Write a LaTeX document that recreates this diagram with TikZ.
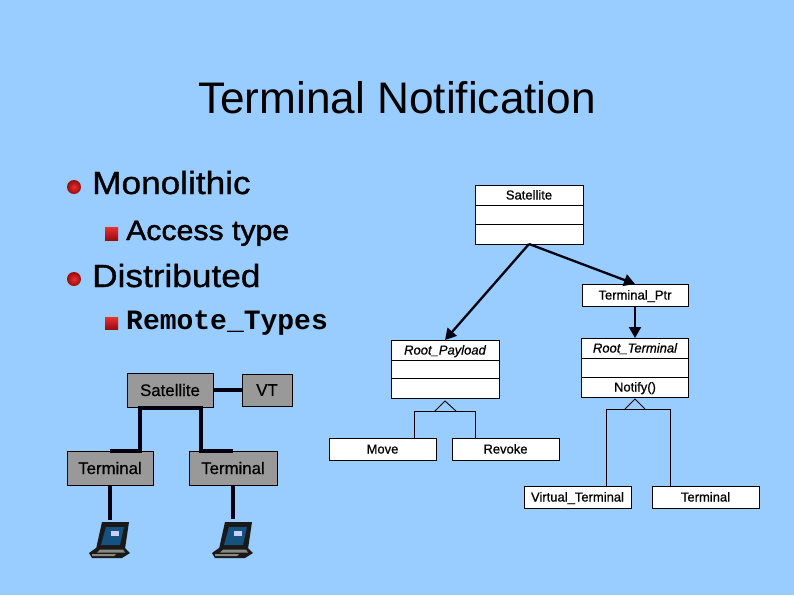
\documentclass[tikz,border=0pt]{standalone}
\usepackage{xcolor}
\usepackage{fontspec}
\usepackage{tikz}
\usetikzlibrary{arrows.meta,positioning}
\setmainfont{Liberation Sans}
\newfontfamily\bulletfont[FakeStretch=1.1,FakeBold=1]{Liberation Sans}
\newfontfamily\subfont[FakeStretch=1.08,FakeBold=1.5]{Liberation Sans}
\newfontfamily\umlfont[FakeBold=0.8]{Liberation Sans}
\newfontfamily\umlitfont[FakeBold=0.8,ItalicFont={Liberation Sans Italic}]{Liberation Sans}
\newfontfamily\netfont[FakeBold=0.6]{Liberation Sans}
\newfontfamily\codefont{Liberation Mono}
\definecolor{slideblue}{HTML}{99CCFF}
\definecolor{boxgray}{HTML}{999999}
\definecolor{linkblack}{HTML}{000010}
\definecolor{bulletlight}{HTML}{E83030}
\definecolor{bulletdark}{HTML}{980C0C}
\definecolor{screenblue}{HTML}{15527F}
\definecolor{keygray}{HTML}{8A8A80}
\tikzset{
  umlbox/.style={draw=black,fill=white,line width=0.9pt,minimum width=107pt,minimum height=22pt,inner sep=0pt,outer sep=0pt,text height=9.5pt,text depth=0.5pt,font=\umlfont\fontsize{13}{15}\selectfont},
  umlcell/.style={umlbox,minimum height=19pt},
  umlitalic/.style={umlcell,font=\umlitfont\fontsize{13}{15}\selectfont\itshape},
  netbox/.style={draw=black,fill=boxgray,line width=0.7pt,inner sep=0pt,outer sep=0pt,minimum height=34pt,font=\netfont\fontsize{16.8}{20}\selectfont},
  netlink/.style={draw=linkblack,line width=3.6pt},
  umlarrow/.style={draw=linkblack,line width=2.3pt,-{Triangle[length=11pt,width=12pt]}},
  umlline/.style={draw=black,line width=0.9pt},
  bullettext/.style={anchor=base west,inner sep=0pt},
  squarebullet/.style={top color=bulletlight,bottom color=bulletdark},
  roundbullet/.style={inner color=bulletlight,outer color=bulletdark},
  laptop/.pic={
    % lid, screen, base
    \fill[black!90] (-8,-19) -- (19,-19) -- (15,8) -- (-14,8) -- cycle;
    \fill[screenblue] (-4,-14) -- (14,-14) -- (10,4) -- (-9,4) -- cycle;
    \fill[white!80!blue] (1,-10) rectangle (9,-5);
    \fill[black!90] (-14,7) -- (15,7) -- (20,12) -- (12,17) -- (-18,17) -- (-21,12) -- cycle;
    \fill[keygray] (-10,8.5) -- (13,8.5) -- (15,11.5) -- (-13,11.5) -- cycle;
    \fill[keygray] (-18,13) -- (6,13) -- (4,15) -- (-18,15) -- cycle;
  },
}
\begin{document}
\begin{tikzpicture}[x=1pt,y=-1pt]
\fill[slideblue] (0,0) rectangle (794,595);
\useasboundingbox (0,0) rectangle (794,595);
\node[anchor=base,inner sep=0pt,font=\fontsize{44.2}{50}\selectfont] (title) at (397,113) {Terminal Notification};
% bullets
\shade[roundbullet] (74,187) circle (7);
\shade[roundbullet] (74,279) circle (7);
\shade[squarebullet] (105,227) rectangle (118,240);
\shade[squarebullet] (105,317) rectangle (118,329);
\node[bullettext,font=\bulletfont\fontsize{32}{36}\selectfont] (mono) at (92,194) {Monolithic};
\node[bullettext,font=\subfont\fontsize{28}{32}\selectfont] (access) at (126,240) {Access type};
\node[bullettext,font=\bulletfont\fontsize{32}{36}\selectfont] (dist) at (92,287) {Distributed};
\node[bullettext,font=\codefont\bfseries\fontsize{28}{32}\selectfont] (remote) at (126,329) {Remote\_Types};
% network
\node[netbox,anchor=north west,minimum width=86pt] (satnet) at (127,373) {Satellite};
\node[netbox,anchor=north west,minimum width=50pt,minimum height=32pt] (vtnet) at (242,374) {VT};
\node[netbox,anchor=north west,minimum width=86pt] (term1) at (67,451) {Terminal};
\node[netbox,anchor=north west,minimum width=88pt] (term2) at (189,451) {Terminal};
\coordinate (busleft) at (140,451);
\coordinate (busright) at (201,451);
\coordinate (busmid) at (170,408);
\pic (lap1) at (110,541) {laptop};
\pic (lap2) at (233,541) {laptop};
\coordinate (lap1top) at (110,520);
\coordinate (lap2top) at (233,519);
\draw[netlink] (satnet.east) -- (vtnet.west);
\draw[netlink] (busmid) -| (busleft) -- (term1.north);
\draw[netlink] (busmid) -| (busright) -- (term2.north);
\draw[netlink] (term1.south) -- (lap1top);
\draw[netlink] (term2.south) -- (lap2top);
% class diagram
\node[umlcell,anchor=north west,minimum width=108pt,minimum height=20pt] (sathead) at (475,185) {Satellite};
\node[umlcell,below=0pt of sathead,minimum width=108pt] (satmid) {};
\node[umlcell,below=0pt of satmid,minimum width=108pt,minimum height=20pt] (satbot) {};
\node[umlbox,anchor=north west,minimum width=106pt] (ptr) at (582,284) {Terminal\_Ptr};
\node[umlitalic,anchor=north,minimum height=20pt] (roothead) at (635,338) {Root\_Terminal};
\node[umlcell,below=0pt of roothead] (rootmid) {};
\node[umlcell,below=0pt of rootmid,minimum height=20pt] (notify) {Notify()};
\node[umlitalic,anchor=north west,minimum width=108pt,minimum height=20pt] (payhead) at (391,340) {Root\_Payload};
\node[umlcell,below=0pt of payhead,minimum width=108pt,minimum height=18pt] (paymid) {};
\node[umlcell,below=0pt of paymid,minimum width=108pt,minimum height=20pt] (paybot) {};
\node[umlbox,anchor=north west] (move) at (329,438) {Move};
\node[umlbox,anchor=north west] (revoke) at (452,438) {Revoke};
\node[umlbox,anchor=north west] (virtual) at (524,486) {Virtual\_Terminal};
\node[umlbox,anchor=north west] (termcls) at (652,486) {Terminal};
\draw[umlarrow] (satbot.south) -- (payhead.north);
\draw[umlarrow] (satbot.south) -- (ptr.north);
\draw[umlarrow] (ptr.south) -- (roothead.north);
% inheritance
\coordinate (payapex) at (445,401);
\coordinate (paybarl) at (414,411);
\coordinate (paybarr) at (475,411);
\coordinate (rootapex) at (635,399);
\coordinate (rootbarl) at (606,409);
\coordinate (rootbarr) at (670,409);
\draw[umlline] (435,411) -- (payapex) -- (456,411);
\draw[umlline] (625,409) -- (rootapex) -- (645,409);
\draw[umlline] (move.north -| paybarl) -- (paybarl) -- (paybarr) -- (revoke.north -| paybarr);
\draw[umlline] (virtual.north -| rootbarl) -- (rootbarl) -- (rootbarr) -- (termcls.north -| rootbarr);
\end{tikzpicture}
\end{document}
